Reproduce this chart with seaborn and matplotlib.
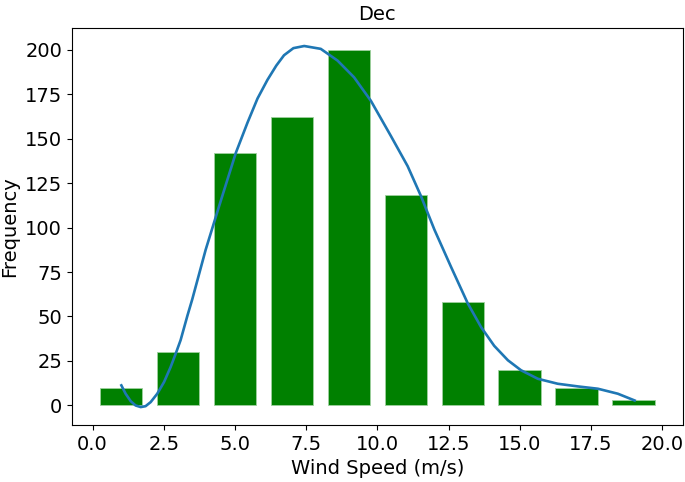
import matplotlib
matplotlib.use("Agg")
import matplotlib.pyplot as plt
import seaborn as sns

# wind-speed histogram bins (m/s) and monthly counts
bin_edges = [0, 2, 4, 6, 8, 10, 12, 14, 16, 18, 20]
bin_centers = [1, 3, 5, 7, 9, 11, 13, 15, 17, 19]
counts = [10, 30, 142, 162, 200, 118, 58, 20, 10, 3]

# smoothed frequency curve
curve_x = [1.01, 1.16, 1.34, 1.51, 1.69, 1.86, 2.04, 2.27, 2.51, 2.74, 2.92,
           3.09, 3.33, 3.5, 3.97, 4.44, 5.03, 5.44, 5.79, 6.14, 6.45, 6.72,
           7.05, 7.43, 8.01, 8.6, 9.18, 9.77, 10.47, 11.06, 11.53, 12.0,
           12.58, 13.17, 13.64, 14.1, 14.58, 15.04, 15.63, 16.33, 17.04,
           17.74, 18.44, 19.03]
curve_y = [11.3, 6.6, 2.4, 0.0, -0.9, -0.4, 1.9, 6.6, 13.2, 21.6, 29.2,
           36.7, 50.5, 59.7, 87.5, 111.9, 142.0, 159.0, 172.5, 183.0, 191.0,
           196.8, 200.8, 202.0, 200.4, 193.8, 184.4, 171.2, 151.5, 134.5,
           117.6, 98.8, 78.0, 57.4, 44.0, 33.5, 25.4, 19.8, 15.0, 12.2, 10.7,
           9.4, 6.6, 2.8]

plt.rcParams["font.family"] = ["DejaVu Sans"]
plt.rcParams["font.size"] = 14

fig, ax = plt.subplots(figsize=(6.85, 4.82), dpi=100)
fig.subplots_adjust(left=0.105, right=0.997, top=0.942, bottom=0.118)

sns.histplot(
    x=bin_centers, weights=counts, bins=bin_edges, shrink=0.75,
    color="green", alpha=1.0, edgecolor="#9fd09f", linewidth=0.6, ax=ax,
)
sns.lineplot(x=curve_x, y=curve_y, color="#1f77b4", linewidth=1.9, ax=ax)

ax.set_xlabel("Wind Speed (m/s)", fontsize=14)
ax.set_ylabel("Frequency", fontsize=14)
ax.set_title("Dec", fontsize=14)
ax.set_xticks([0, 2.5, 5, 7.5, 10, 12.5, 15, 17.5, 20])
ax.tick_params(labelsize=14)

fig.savefig("out.png", dpi=100)
